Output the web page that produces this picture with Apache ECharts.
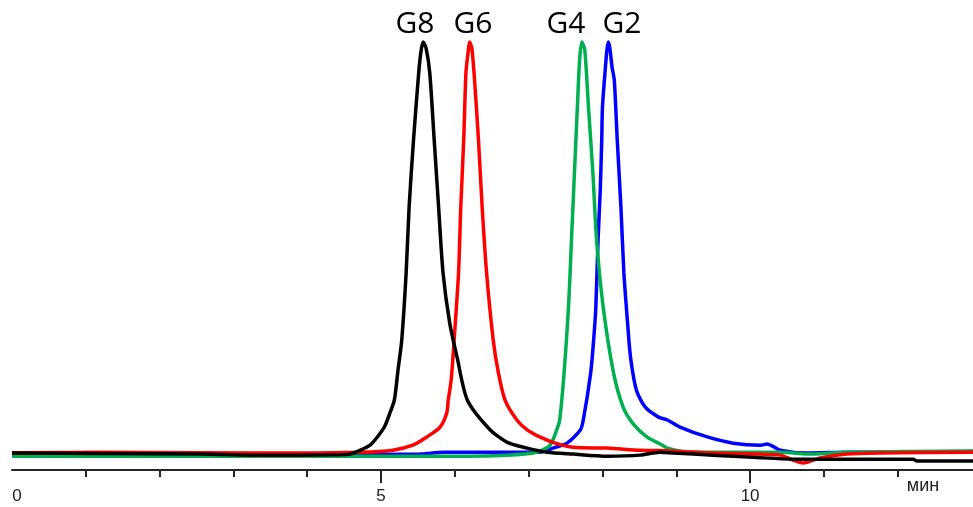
<!DOCTYPE html>
<html><head><meta charset="utf-8">
<script src="https://cdn.jsdelivr.net/npm/echarts@6/dist/echarts.min.js"></script>
<style>html,body{margin:0;padding:0;background:#fff}#c{width:973px;height:507px}</style>
</head><body><div id="c"></div>
<script>
// ---- data (time in minutes, signal normalised to peak = 100) ----
const seriesNames = ['G8', 'G6', 'G4', 'G2'];

const g8Time   = [0, 1.19, 2.55, 3.22, 3.90, 4.44, 4.58, 4.72, 4.85, 4.95, 5.05, 5.12, 5.18, 5.23, 5.28, 5.34, 5.38, 5.44, 5.51, 5.54, 5.57, 5.61, 5.66, 5.72, 5.78, 5.84, 5.93, 6.03, 6.17, 6.48, 6.71, 6.98, 7.25, 7.60, 8.06, 8.51, 8.78, 8.96, 9.50, 10.04, 10.58, 11.12, 12.21, 12.26, 13.02];
const g8Signal = [0.5, 0.4, 0.25, 0, 0, 0.1, 0.25, 1.2, 2.4, 4.4, 7.0, 10.2, 13.3, 20.6, 27.8, 44.1, 60.0, 76.3, 92.5, 97.6, 100, 98.5, 92.5, 76.3, 60.0, 44.1, 32.0, 23.7, 13.3, 6.1, 3.1, 1.7, 0.7, 0.25, -0.25, 0, 0.7, 0.5, 0, -0.5, -1.0, -1.0, -1.0, -1.45, -1.45];

const g6Time   = [0, 1.19, 2.55, 3.90, 4.72, 5.16, 5.43, 5.62, 5.80, 5.89, 5.91, 5.95, 5.99, 6.05, 6.08, 6.12, 6.15, 6.18, 6.20, 6.23, 6.26, 6.32, 6.37, 6.43, 6.52, 6.59, 6.68, 6.84, 6.98, 7.15, 7.33, 7.60, 8.06, 8.51, 8.96, 9.50, 10.41, 10.58, 10.72, 10.95, 11.31, 11.76, 13.02];
const g6Signal = [0.6, 0.7, 0.6, 0.5, 0.7, 1.2, 2.4, 4.4, 6.8, 10.2, 13.3, 18.2, 27.8, 44.1, 60.0, 76.3, 92.5, 97.6, 100, 98.5, 92.5, 76.3, 60.0, 44.1, 27.8, 19.9, 13.3, 8.5, 6.1, 4.4, 3.1, 1.9, 1.7, 1.2, 1.0, 0.5, 0, -1.2, -1.9, -0.7, 0.25, 0.5, 0.7];

const g4Time   = [0, 3.90, 5.80, 6.71, 7.11, 7.29, 7.38, 7.42, 7.48, 7.54, 7.58, 7.62, 7.66, 7.69, 7.72, 7.76, 7.81, 7.87, 7.92, 8.01, 8.15, 8.28, 8.41, 8.60, 8.78, 8.88, 9.19, 9.50, 10.41, 10.85, 11.31, 13.02];
const g4Signal = [-0.25, -0.25, -0.25, 0, 0.7, 2.4, 6.1, 8.5, 19.9, 35.8, 52.1, 68.3, 84.3, 95.6, 100, 98.1, 84.3, 68.3, 52.1, 35.8, 19.9, 11.6, 7.7, 4.4, 2.7, 1.7, 0.7, 0.7, 0.7, 0.25, 0.7, 1.0];

const g2Time   = [0, 3.90, 5.53, 5.84, 7.15, 7.33, 7.52, 7.70, 7.74, 7.84, 7.88, 7.91, 7.94, 7.97, 7.99, 8.00, 8.04, 8.06, 8.08, 8.10, 8.13, 8.16, 8.20, 8.25, 8.29, 8.34, 8.38, 8.46, 8.58, 8.76, 8.88, 9.05, 9.42, 9.77, 10.14, 10.23, 10.41, 10.77, 11.31, 13.02];
const g2Signal = [0, 0, 0.25, 0.7, 0.7, 1.7, 2.9, 6.1, 8.5, 19.9, 27.8, 35.8, 52.1, 64.2, 76.3, 84.3, 93.9, 98.1, 100, 98.5, 93.9, 90.8, 76.3, 60.0, 44.1, 32.0, 23.7, 15.7, 11.6, 9.2, 8.5, 6.8, 4.4, 2.9, 2.4, 2.7, 1.2, 0.5, 0.7, 0.85];

const majorTickValues = [5, 10];
const tickLabelValues = [0, 5, 10];
const minorTickValues = [1, 2, 3, 4, 6, 7, 8, 9, 11, 12];
const axisUnit = 'мин';
const timeMax = 13.02;

// ---- chart ----
const zip = (xs, ys) => xs.map((x, i) => [x, ys[i]]);
const colors = { G8: '#000000', G6: '#ff0000', G4: '#00b050', G2: '#0000ff' };
const dataByName = {
  G8: zip(g8Time, g8Signal),
  G6: zip(g6Time, g6Signal),
  G4: zip(g4Time, g4Signal),
  G2: zip(g2Time, g2Signal)
};
const drawOrder = ['G2', 'G4', 'G6', 'G8'];

const chart = echarts.init(document.getElementById('c'), null, { renderer: 'canvas' });
const axisColor = '#262626';
chart.setOption({
  animation: false,
  backgroundColor: '#ffffff',
  grid: { left: 12, right: 0, top: 42, bottom: 37, containLabel: false },
  xAxis: [
    {
      type: 'value', min: 0, max: timeMax,
      axisLine: { show: true, onZero: false, lineStyle: { color: axisColor, width: 2 } },
      axisTick: { show: true, customValues: majorTickValues, length: 13, lineStyle: { color: axisColor, width: 2 } },
      axisLabel: {
        show: true, customValues: tickLabelValues, margin: 18,
        fontFamily: 'Liberation Sans, Arial, sans-serif', fontSize: 17, color: '#222',
        formatter: v => v === 0 ? '{first|0}' : String(v),
        rich: { first: { padding: [0, 0, 0, 10], fontFamily: 'Liberation Sans, Arial, sans-serif', fontSize: 17, color: '#222' } }
      },
      splitLine: { show: false }
    },
    {
      type: 'value', min: 0, max: timeMax, position: 'bottom',
      axisLine: { show: false, onZero: false },
      axisTick: { show: true, customValues: minorTickValues, length: 7, lineStyle: { color: axisColor, width: 2 } },
      axisLabel: { show: false },
      splitLine: { show: false }
    }
  ],
  yAxis: { type: 'value', min: -3.6, max: 100, show: false },
  series: drawOrder.map(name => ({
    name, type: 'line', xAxisIndex: 0,
    data: dataByName[name],
    showSymbol: false, symbol: 'none',
    smooth: 0.25,
    lineStyle: { color: colors[name], width: 3.5 },
    clip: false
  })),
  graphic: [
    ...[['G8', 415], ['G6', 473], ['G4', 566], ['G2', 622]].map(([t, x]) => ({
      type: 'text', x, y: 24,
      style: { text: t, fill: '#000', font: '30px "Open Sans", "Noto Sans", sans-serif', textAlign: 'center', textVerticalAlign: 'middle' }
    })),
    { type: 'text', x: 923, y: 486,
      style: { text: axisUnit, fill: '#222', font: '18px "Liberation Sans", Arial, sans-serif', textAlign: 'center', textVerticalAlign: 'middle' } }
  ]
});
</script></body></html>
